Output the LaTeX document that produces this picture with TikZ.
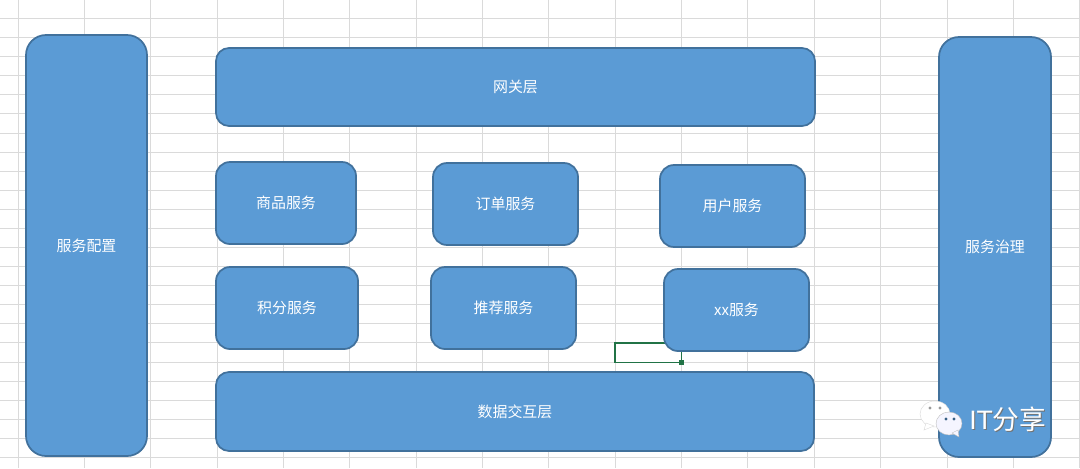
\documentclass[tikz,border=0pt]{standalone}
\usepackage{fontspec}
\setmainfont{Noto Sans CJK SC}
\newfontfamily\latinfont{Liberation Sans}
\definecolor{gridc}{HTML}{DADADA}
\definecolor{boxfill}{HTML}{5B9BD5}
\definecolor{boxline}{HTML}{41719C}
\definecolor{selgreen}{HTML}{217346}
\newcommand{\pxbox}[7]{%
  \node[svcbox, rounded corners=#6*0.75pt,
        minimum width={(#4-#2)*0.75pt}, minimum height={(#5-#3)*0.75pt}]
        (#1) at ({(#2+#4)/2},{(#3+#5)/2}) {\raisebox{-0.6pt}{#7}};}
\tikzset{
  x=0.75pt, y=-0.75pt,
  gridline/.style={draw=gridc, line width=0.85pt},
  svcbox/.style={draw=boxline, fill=boxfill, line width=1.3pt, text=white,
                 inner sep=0pt, outer sep=0pt, font=\fontsize{11.2pt}{13pt}\selectfont},
  selbox/.style={draw=selgreen, line width=1.2pt},
  selhandle/.style={fill=selgreen, inner sep=0pt, minimum size=3.6pt, outer sep=0pt},
  backbubble/.style={fill=white, draw=black!15, line width=0.3pt},
  frontbubble/.style={fill=blue!4!white, draw=black!25, line width=0.3pt},
  brand/.style={inner sep=0pt, anchor=west, font=\fontsize{20pt}{24pt}\selectfont},
}
\begin{document}
\begin{tikzpicture}
\useasboundingbox (0,0) rectangle (1080,468);
\fill[white] (0,0) rectangle (1080,468);
% sheet grid
\foreach \gx in {18.5,84.5,150.5,217.5,283.5,349.5,416.5,482.5,548.5,615.5,681.5,747.5,814.5,880.5,947.5,1013.5,1079.5}
  \draw[gridline] (\gx,0) -- (\gx,468);
\foreach \gy in {18.5,37.5,56.5,75.5,94.5,113.5,133.5,152.5,171.5,190.5,209.5,228.5,247.5,266.5,285.5,304.5,323.5,342.5,362.5,381.5,400.5,419.5,438.5,457.5}
  \draw[gridline] (0,\gy) -- (1080,\gy);
% selected cell
\draw[selbox] (615,343) rectangle (681.5,362.5);
\node[selhandle] (handle) at (681.5,362.5) {};
% shapes
\pxbox{config}{26}{35}{147}{456}{20}{服务配置}
\pxbox{gateway}{216}{48}{815}{126}{13}{网关层}
\pxbox{goods}{216}{162}{356}{244}{14}{商品服务}
\pxbox{orders}{433}{163}{578}{245}{14}{订单服务}
\pxbox{users}{660}{165}{805}{247}{14}{用户服务}
\pxbox{points}{216}{267}{358}{349}{14}{积分服务}
\pxbox{recommend}{431}{267}{576}{349}{14}{推荐服务}
\pxbox{xx}{664}{269}{809}{351}{14}{xx服务}
\pxbox{data}{216}{372}{814}{451}{13}{数据交互层}
\pxbox{govern}{939}{37}{1051}{457}{20}{服务治理}
% watermark
\fill[backbubble] (935,414) ellipse (15 and 13);
\fill[backbubble] (926,423) -- (924,430) -- (934,426) -- cycle;
\fill[black!40] (930,408) circle (1.6) (940,408) circle (1.6);
\fill[frontbubble] (949,423.5) ellipse (13 and 11.5);
\fill[frontbubble] (952,433) -- (959,437) -- (958,430) -- cycle;
\fill[boxline!85!black] (946,419) circle (1.7) (954,419) circle (1.7);
\node[brand, text=black!55] (brandshadow) at (970,420.6) {\latinfont IT\rmfamily 分享};
\node[brand, text=white] (brandtext) at (969,419.6) {\latinfont IT\rmfamily 分享};
\end{tikzpicture}
\end{document}
